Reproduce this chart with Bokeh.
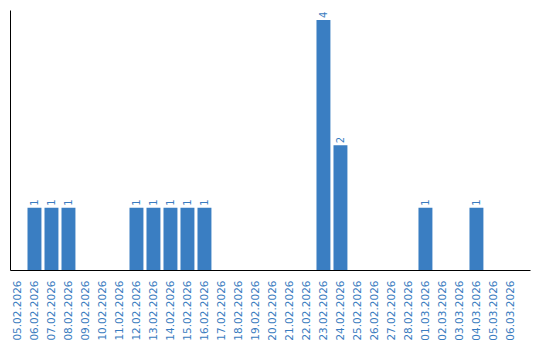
import math
from bokeh.plotting import figure
from bokeh.models import ColumnDataSource, FixedTicker, Range1d
from bokeh.core.properties import value
from bokeh.embed import file_html
from bokeh.resources import INLINE

dates = ["05.02.2026", "06.02.2026", "07.02.2026", "08.02.2026", "09.02.2026",
         "10.02.2026", "11.02.2026", "12.02.2026", "13.02.2026", "14.02.2026",
         "15.02.2026", "16.02.2026", "17.02.2026", "18.02.2026", "19.02.2026",
         "20.02.2026", "21.02.2026", "22.02.2026", "23.02.2026", "24.02.2026",
         "25.02.2026", "26.02.2026", "27.02.2026", "28.02.2026", "01.03.2026",
         "02.03.2026", "03.03.2026", "04.03.2026", "05.03.2026", "06.03.2026"]
counts = [0, 1, 1, 1, 0, 0, 0, 1, 1, 1, 1, 1, 0, 0, 0, 0, 0, 0, 4, 2,
          0, 0, 0, 0, 1, 0, 0, 1, 0, 0]

BLUE = "#3a7ec2"
TXT = "#3a7cc0"
FONT = "DejaVu Sans"

xs = list(range(len(dates)))
nz = [i for i in xs if counts[i] > 0]
src = ColumnDataSource(dict(x=[xs[i] for i in nz], top=[counts[i] for i in nz],
                            lbl=[str(counts[i]) for i in nz]))

p = figure(frame_width=520, frame_height=260, output_backend="svg", toolbar_location=None,
           x_range=Range1d(-0.41, 30.18), y_range=Range1d(0, 4.15),
           min_border_left=10, min_border_right=10, min_border_top=10,
           min_border_bottom=0)
p.outline_line_color = None
p.xgrid.visible = False
p.ygrid.visible = False

p.vbar(x="x", top="top", width=0.82, source=src, color=BLUE, line_color=None)
p.text(x="x", y="top", text="lbl", source=src, angle=math.pi / 2,
       text_align="left", text_baseline="middle", y_offset=-2,
       text_font=value(FONT), text_font_size="10px", text_color=TXT)

p.xaxis.ticker = FixedTicker(ticks=xs)
p.xaxis.major_label_overrides = {i: d for i, d in enumerate(dates)}
p.xaxis.major_label_orientation = math.pi / 2
p.xaxis.major_label_text_font = FONT
p.xaxis.major_label_text_font_size = "10.5px"
p.xaxis.major_label_text_color = TXT
p.xaxis.major_tick_line_color = None
p.xaxis.minor_tick_line_color = None
p.xaxis.major_label_standoff = 4
p.xaxis.axis_line_color = "black"

p.yaxis.ticker = FixedTicker(ticks=[])
p.yaxis.major_tick_line_color = None
p.yaxis.minor_tick_line_color = None
p.yaxis.major_label_standoff = 0
p.yaxis.axis_line_color = "black"

open("out.html", "w").write(file_html(p, INLINE))
